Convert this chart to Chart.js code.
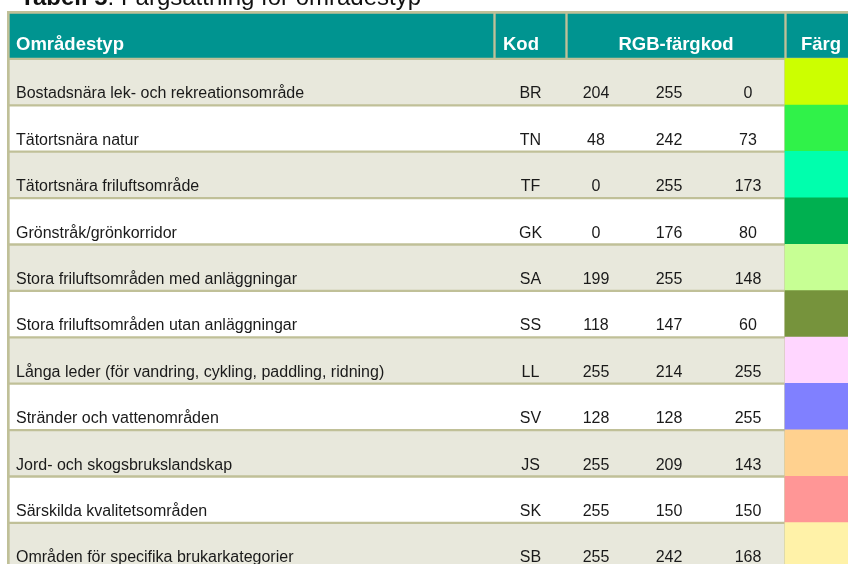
<!DOCTYPE html>
<html>
<head>
<meta charset="utf-8">
<title>Tabell 5</title>
<script src="https://cdn.jsdelivr.net/npm/chart.js@4.4.1/dist/chart.umd.min.js"></script>
<style>
	html, body { margin: 0; padding: 0; background: #ffffff; overflow: hidden; }
	canvas { display: block; }
</style>
</head>
<body>
<canvas id="tablechart" width="848" height="564"></canvas>
<script>
// table data
var headers = ['Områdestyp', 'Kod', 'RGB-färgkod', 'Färg'];
var names = [
	'Bostadsnära lek- och rekreationsområde',
	'Tätortsnära natur',
	'Tätortsnära friluftsområde',
	'Grönstråk/grönkorridor',
	'Stora friluftsområden med anläggningar',
	'Stora friluftsområden utan anläggningar',
	'Långa leder (för vandring, cykling, paddling, ridning)',
	'Stränder och vattenområden',
	'Jord- och skogsbrukslandskap',
	'Särskilda kvalitetsområden',
	'Områden för specifika brukarkategorier'
];
var codes = ['BR', 'TN', 'TF', 'GK', 'SA', 'SS', 'LL', 'SV', 'JS', 'SK', 'SB'];
var red   = [204,  48,   0,   0, 199, 118, 255, 128, 255, 255, 255];
var green = [255, 242, 255, 176, 255, 147, 214, 128, 209, 150, 242];
var blue  = [  0,  73, 173,  80, 148,  60, 255, 255, 143, 150, 168];

// layout (pixels)
var W = 848, H = 564;
var rowPitch = 46.4;
var tableTop = 12.5;          // centre of the top border line
var lineW = 3;
var yMin = -0.5 - tableTop / rowPitch;
var yMax = yMin + H / rowPitch;
var frameLeft = 7, cellLeft = 10, cellRight = 784, swatchLeft = 785;
var headCols = [[10, 493], [496, 565], [568, 784], [787, 848]];
var kodX = 530.5, rX = 596, gX = 669, bX = 748;

var olive = '#c0c098';
var teal = '#009490';
var beige = '#e8e8dc';
var font = '"Liberation Sans", Arial, sans-serif';

var rowIdx = names.map(function(n, i) { return i + 1; });

var frame = {
	id: 'frame',
	beforeDatasetsDraw: function(chart) {
		var ctx = chart.ctx, x = chart.scales.x, y = chart.scales.y;
		var top = y.getPixelForValue(-0.5) - lineW / 2;
		ctx.save();
		ctx.fillStyle = olive;
		ctx.fillRect(x.getPixelForValue(frameLeft), top, W, H - top);
		ctx.restore();
	},
	afterDatasetsDraw: function(chart) {
		var ctx = chart.ctx, x = chart.scales.x, y = chart.scales.y;
		ctx.save();
		ctx.textBaseline = 'alphabetic';

		// title (partly above the picture)
		ctx.fillStyle = '#111111';
		ctx.textAlign = 'left';
		ctx.font = 'bold 24px ' + font;
		ctx.fillText('Tabell 5', 20, 5);
		var tw = ctx.measureText('Tabell 5').width;
		ctx.font = '24px ' + font;
		ctx.fillText(': Färgsättning för områdestyp', 20 + tw, 5);

		// header
		var hb = y.getPixelForValue(0.5) - 8.5;
		ctx.fillStyle = '#ffffff';
		ctx.font = 'bold 18.5px ' + font;
		ctx.textAlign = 'left';
		ctx.fillText(headers[0], x.getPixelForValue(16), hb);
		ctx.fillText(headers[1], x.getPixelForValue(503), hb);
		ctx.textAlign = 'center';
		ctx.fillText(headers[2], x.getPixelForValue(676), hb);
		ctx.textAlign = 'left';
		ctx.fillText(headers[3], x.getPixelForValue(801), hb);

		// body rows
		ctx.fillStyle = '#1a1a1a';
		ctx.font = '16px ' + font;
		for (var i = 0; i < names.length; i++) {
			var base = y.getPixelForValue(rowIdx[i] + 0.5) - 7;
			ctx.textAlign = 'left';
			ctx.fillText(names[i], x.getPixelForValue(16), base);
			ctx.textAlign = 'center';
			ctx.fillText(codes[i], x.getPixelForValue(kodX), base);
			ctx.fillText(String(red[i]), x.getPixelForValue(rX), base);
			ctx.fillText(String(green[i]), x.getPixelForValue(gX), base);
			ctx.fillText(String(blue[i]), x.getPixelForValue(bX), base);
		}
		ctx.restore();
	}
};

var chartdata = {
	datasets: [
		{
			label: 'Färg',
			order: 0,
			data: rowIdx.map(function(r, i) { return { x: [swatchLeft, W], y: r }; }),
			backgroundColor: rowIdx.map(function(r, i) {
				return 'rgb(' + red[i] + ',' + green[i] + ',' + blue[i] + ')';
			}),
			barThickness: rowPitch + 0.5
		},
		{
			label: 'Rader',
			order: 1,
			data: rowIdx.map(function(r) { return { x: [cellLeft, cellRight], y: r }; }),
			backgroundColor: rowIdx.map(function(r) { return r % 2 ? beige : '#ffffff'; }),
			barThickness: rowPitch - lineW
		},
		{
			label: 'Rubrik',
			order: 2,
			data: headCols.map(function(c) { return { x: c, y: 0 }; }),
			backgroundColor: teal,
			barThickness: rowPitch - lineW
		}
	]
};

var tableChart = new Chart(document.getElementById('tablechart'), {
	type: 'bar',
	data: chartdata,
	plugins: [frame],
	options: {
		indexAxis: 'y',
		responsive: false,
		animation: false,
		devicePixelRatio: 1,
		layout: { padding: 0, autoPadding: false },
		datasets: { bar: { grouped: false, borderWidth: 0 } },
		scales: {
			x: { type: 'linear', min: 0, max: W, offset: false, display: false },
			y: { type: 'linear', min: yMin, max: yMax, reverse: true, offset: false, display: false }
		},
		plugins: {
			legend: { display: false },
			tooltip: { enabled: false }
		}
	}
});
</script>
</body>
</html>
